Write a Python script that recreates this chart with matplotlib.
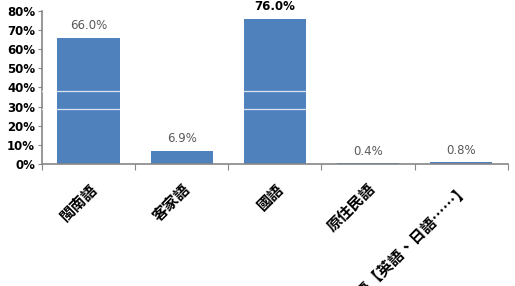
import matplotlib
matplotlib.use("Agg")
import matplotlib.pyplot as plt

categories = ["閩南語", "客家語", "國語", "原住民語", "外語【英語、日語……】"]
values = [66.0, 6.9, 76.0, 0.4, 0.8]
highlight = "國語"
yticks = [0, 10, 20, 30, 40, 50, 60, 70, 80]
streak_levels = [38.4, 28.6]

BAR = "#4F81BD"
AXIS = "#868686"
CJK = ["Noto Sans CJK TC", "DejaVu Sans"]

fig = plt.figure(figsize=(5.15, 2.86), dpi=100)
ax = fig.add_axes([0.0816, 0.4266, 0.9044, 0.535])

x = list(range(len(categories)))
ax.bar(x, values, width=0.67, color=BAR, zorder=2)
for lvl in streak_levels:
    ax.axhline(lvl, color="white", lw=0.9, alpha=0.8, zorder=3)

for xi, v, c in zip(x, values, categories):
    bold = c == highlight
    ax.annotate(f"{v:.1f}%", (xi, v), xytext=(0, 4), textcoords="offset points",
                ha="center", va="bottom", fontsize=8.5,
                color="black" if bold else "#595959",
                fontweight="bold" if bold else "normal",
                annotation_clip=False, zorder=4)

ax.set_xlim(-0.5, len(categories) - 0.5)
ax.set_ylim(0, 80)
ax.set_yticks(yticks)
ax.set_yticklabels([f"{t}%" for t in yticks], fontsize=8.5, fontweight="bold")

ax.set_xticks([i - 0.5 for i in range(len(categories) + 1)], minor=False)
ax.set_xticklabels([])
ax.set_xticks(x, minor=True)
ax.set_xticklabels(categories, minor=True, rotation=45, ha="right",
                   rotation_mode="anchor", fontsize=11, fontweight="black",
                   family=CJK)
ax.tick_params(axis="x", which="minor", length=0, pad=12)
ax.tick_params(axis="x", which="major", length=4, color=AXIS, direction="out")
ax.tick_params(axis="y", length=3, color=AXIS, pad=2)

for s in ["top", "right"]:
    ax.spines[s].set_visible(False)
for s in ["left", "bottom"]:
    ax.spines[s].set_color(AXIS)
    ax.spines[s].set_linewidth(1.2)

fig.savefig("out.png", dpi=100)
